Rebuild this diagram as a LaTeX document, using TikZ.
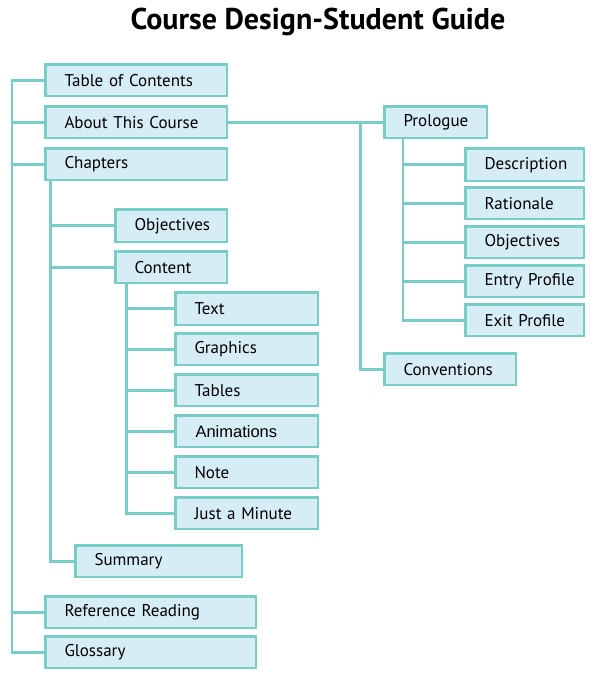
\documentclass[tikz,border=0pt]{standalone}
\usepackage{fontspec}
\setmainfont{PT Sans}
\newfontfamily\arialfont{Liberation Sans}
\definecolor{tealline}{HTML}{78CEC7}
\definecolor{boxfill}{HTML}{D6EDF6}
\begin{document}
\begin{tikzpicture}[x=1pt,y=-1pt,
  conn/.style={draw=tealline, line width=2.6pt},
  box/.style={draw=tealline, fill=boxfill, line width=2.5pt, anchor=north west,
    inner xsep=19pt, inner ysep=0pt, align=left, font=\fontsize{17}{20}\selectfont}]
\useasboundingbox (0,0) rectangle (595,687);
\newcommand{\bx}[6]{%
  \pgfmathsetmacro{\bw}{#4-#2-2.5}\pgfmathsetmacro{\bh}{#5-#3-2.5}\pgfmathsetmacro{\tw}{#4-#2-2.5-38}%
  \node[box, minimum width=\bw pt, minimum height=\bh pt, text width=\tw pt] (#1) at (#2+1.25,#3+1.25) {\mbox{#6}};}
% title
\node[font=\bfseries\fontsize{30}{36}\selectfont] (title) at (318,22) {Course Design-Student Guide};
% trunk coordinates
\coordinate (L) at (12,0);
\coordinate (C) at (50.3,0);
\coordinate (K) at (126.5,0);
\coordinate (P) at (360.5,0);
\coordinate (Q) at (403,0);
% boxes
\bx{toc}{43}{62}{227}{96}{Table of Contents}
\bx{about}{43}{104}{227}{138}{About This Course}
\bx{chap}{43}{146}{227}{180}{Chapters}
\bx{obja}{113}{207}{227}{242}{Objectives}
\bx{cont}{113}{249}{227}{283}{Content}
\bx{text}{173}{290}{318}{325}{Text}
\bx{graph}{173}{331}{318}{365}{Graphics}
\bx{tabl}{173}{372}{318}{406}{Tables}
\bx{anim}{173}{413}{318}{447}{\arialfont\fontsize{16.5}{20}\selectfont\hspace*{1pt}Animations}
\bx{note}{173}{454}{318}{488}{Note}
\bx{jam}{173}{495}{318}{529}{Just a Minute}
\bx{summ}{73}{543}{242}{577}{Summary}
\bx{ref}{43}{594}{256}{628}{Reference Reading}
\bx{gloss}{43}{634}{256}{668}{Glossary}
\bx{prol}{382}{104}{487}{138}{Prologue}
\bx{desc}{463}{146}{584}{181}{Description}
\bx{rat}{463}{185}{584}{219}{Rationale}
\bx{objb}{463}{224}{584}{258}{Objectives}
\bx{entry}{463}{263}{584}{297}{Entry Profile}
\bx{exit}{463}{302}{584}{336}{Exit Profile}
\bx{conv}{382}{351}{516}{385}{Conventions}
% connectors
\draw[conn] (toc.west) -- (toc.west -| L) |- (gloss.west);
\foreach \n in {about,chap,ref} \draw[conn] (\n.west) -- (\n.west -| L);
\draw[conn] (chap.south -| C) |- (summ.west);
\foreach \n in {obja,cont} \draw[conn] (\n.west) -- (\n.west -| C);
\draw[conn] (cont.south -| K) |- (jam.west);
\foreach \n in {text,graph,tabl,anim,note} \draw[conn] (\n.west) -- (\n.west -| K);
\draw[conn] (about.east) -- (prol.west);
\draw[conn] (about.east -| P) |- (conv.west);
\draw[conn] (prol.south -| Q) |- (exit.west);
\foreach \n in {desc,rat,objb,entry} \draw[conn] (\n.west) -- (\n.west -| Q);
\end{tikzpicture}
\end{document}
